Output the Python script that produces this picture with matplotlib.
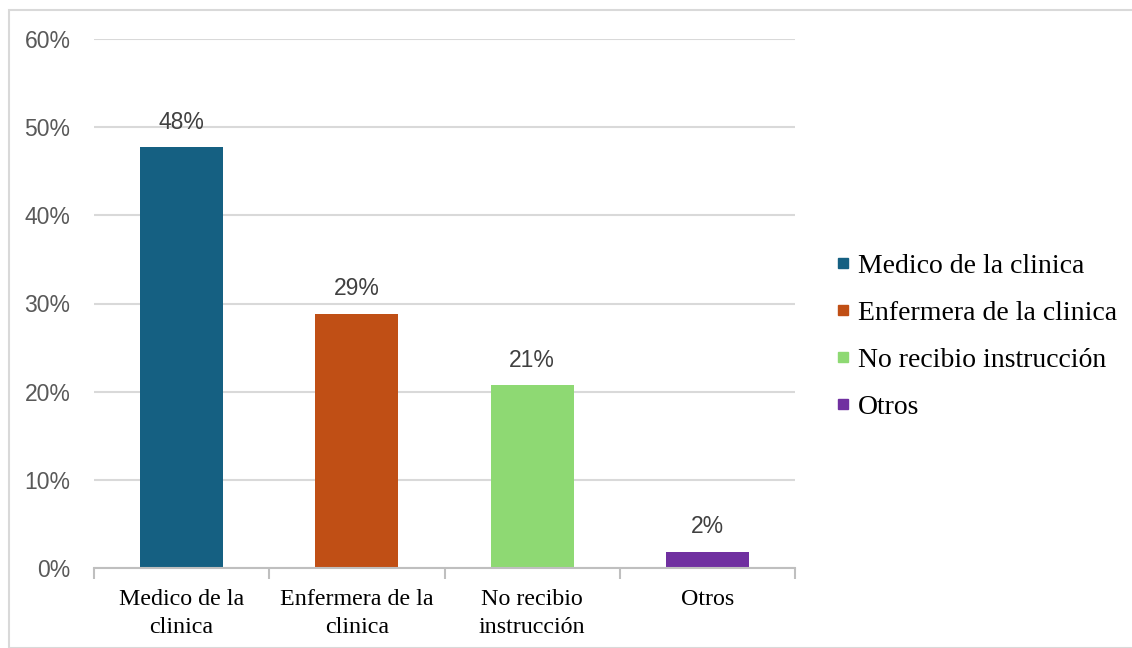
import matplotlib
matplotlib.use("Agg")
import matplotlib.pyplot as plt
from matplotlib.patches import Rectangle
from matplotlib.lines import Line2D

categories = ["Medico de la\nclinica", "Enfermera de la\nclinica", "No recibio\ninstrucción", "Otros"]
legend_labels = ["Medico de la clinica", "Enfermera de la clinica", "No recibio instrucción", "Otros"]
values = [0.477, 0.288, 0.207, 0.018]
colors = ["#156082", "#C04F15", "#8ED973", "#7030A0"]
y_ticks = [0.0, 0.1, 0.2, 0.3, 0.4, 0.5, 0.6]

W, H = 1132, 648
fig = plt.figure(figsize=(W / 100, H / 100), dpi=100)
fig.patch.set_facecolor("white")

# outer chart frame
fig.patches.append(Rectangle((9 / W, 0), 1.2, 1 - 10 / H, transform=fig.transFigure,
                             fill=False, edgecolor="#d9d9d9", linewidth=1.5))

ax = fig.add_axes([94 / W, (H - 568) / H, (795 - 94) / W, (568 - 39) / H])
x = list(range(len(categories)))
bars = ax.bar(x, values, width=0.475, color=colors, zorder=3)

ax.set_xlim(-0.5, len(categories) - 0.5)
ax.set_ylim(0, 0.6)
ax.set_yticks(y_ticks)
ax.set_yticklabels([f"{v:.0%}" for v in y_ticks], fontsize=16.5,
                   family="Liberation Sans", color="#595959")
ax.yaxis.grid(True, color="#d9d9d9", linewidth=1.5, zorder=0)
ax.tick_params(axis="y", length=0, pad=17)

for s in ["top", "right", "left"]:
    ax.spines[s].set_visible(False)
ax.spines["bottom"].set_color("#bfbfbf")
ax.spines["bottom"].set_linewidth(1.5)
ax.spines["bottom"].set_zorder(4)

# category labels centred, tick marks on boundaries
ax.set_xticks(x)
ax.set_xticklabels(categories, fontsize=17.3, family="Liberation Serif",
                   color="black", linespacing=1.42)
ax.tick_params(axis="x", length=0, pad=15)
ax.set_xticks([i - 0.5 for i in range(len(categories) + 1)], minor=True)
ax.tick_params(axis="x", which="minor", length=8, width=1.5, color="#bfbfbf")

for b, v in zip(bars, values):
    ax.annotate(f"{v:.0%}", (b.get_x() + b.get_width() / 2, v),
                xytext=(0, 10), textcoords="offset points", ha="center", va="bottom",
                fontsize=16.5, family="Liberation Sans", color="#404040")

handles = [Line2D([0], [0], marker="s", linestyle="none", markersize=6.5,
                  markerfacecolor=c, markeredgecolor=c) for c in colors]
fig.legend(handles, legend_labels, loc="upper left", bbox_to_anchor=(825 / W, 1 - 242 / H),
           frameon=False, prop={"family": "Liberation Serif", "size": 20},
           handlelength=0.5, handletextpad=0.3, labelspacing=0.78, borderaxespad=0)

fig.savefig("out.png", dpi=100, facecolor="white")
